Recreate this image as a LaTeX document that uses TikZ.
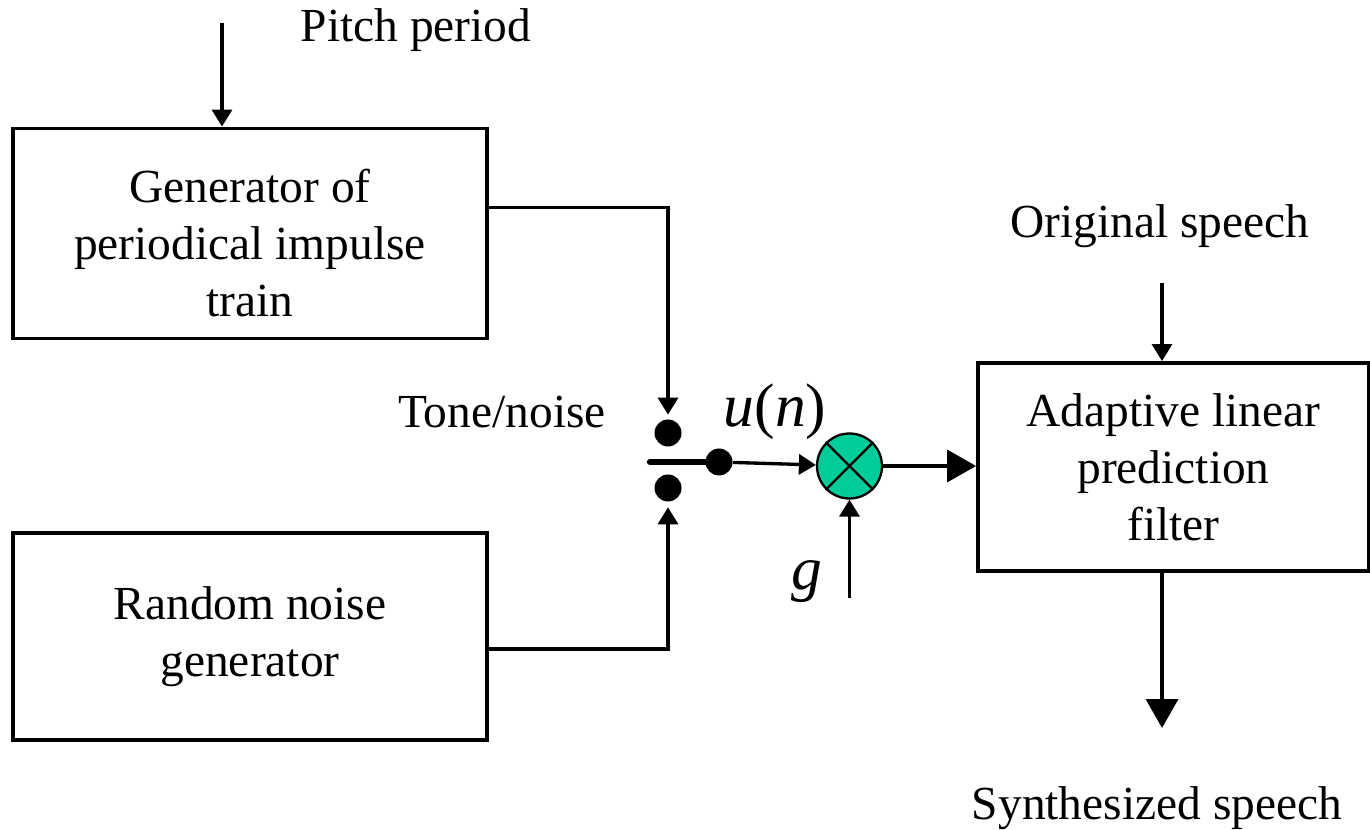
\documentclass[tikz,border=0pt]{standalone}
\usepackage{fontspec}
\setmainfont{Liberation Serif}
\usetikzlibrary{arrows.meta,calc}
\definecolor{MixerGreen}{HTML}{00CC99}

\begin{document}
\begin{tikzpicture}[
  x=0.02cm,
  y=-0.02cm,
  font=\fontsize{27}{32.5}\selectfont,
  block/.style={
    draw,
    line width=2.2pt,
    minimum width=9.48cm,
    minimum height=4.2cm,
    align=center,
    inner sep=0pt
  },
  mixer/.style={circle,draw,line width=1.3pt,fill=MixerGreen,
    minimum size=1.3cm,inner sep=0pt},
  dot/.style={circle,fill=black,inner sep=0pt,minimum size=0.54cm},
  arrow/.style={-{Triangle[length=0.34cm,width=0.4cm]},line width=1.9pt},
  bigarrow/.style={-{Triangle[length=0.58cm,width=0.64cm]},line width=2pt},
  lever/.style={line width=3.6pt,line cap=round},
  sym/.style={font=\fontsize{35}{40}\selectfont\itshape}
]
\useasboundingbox (0,0) rectangle (1370,830);

\node[block] (pulse) at (250,233.5) {};
\node (pulsetext) at (250,243) [align=center]
  {Generator of\\periodical impulse\\train};
\node[block,minimum height=4.14cm] (noise) at (250,636.5)
  {Random noise\\generator};
\node[block,minimum width=7.82cm,minimum height=4.16cm] (filter) at (1173.5,467)
  {Adaptive linear\\prediction\\filter};

\node[mixer] (mult) at (849.5,466) {};
\draw[line width=1.3pt] (mult.north west) -- (mult.south east)
  (mult.north east) -- (mult.south west);

\node[dot] (tone) at (668,433) {};
\node[dot] (rand) at (668,488) {};
\node[dot] (pivot) at (719,462) {};
\coordinate (lever) at (650,462);

\coordinate (pitch) at (222,23);
\coordinate (orig) at (1162,283);
\coordinate (gain) at (849.5,598);
\coordinate (out) at (1162,728);

\node at (416,30) {Pitch period};
\node at (502,412) {Tone/noise};
\node at (1160,226) {Original speech};
\node at (1157,808) {Synthesized speech};
\node[sym] at (775,412) {u{\upshape(}n{\upshape)}};
\node[sym] at (807,582) {g};

\draw[arrow] (pitch) -- (pitch |- pulse.north);
\draw[arrow] ([yshift=0.52cm]pulse.east) -| ([yshift=0.09cm]tone.north);
\draw[arrow] ([yshift=-0.25cm]noise.east) -| ([yshift=-0.11cm]rand.south);
\draw[lever] (lever) -- (pivot);
\draw[arrow] (pivot) -- (mult);
\draw[arrow] (gain) -- (mult.south);
\draw[bigarrow] (mult.east) -- (mult.east -| filter.west);
\draw[arrow] (orig) -- (orig |- filter.north);
\draw[bigarrow] (orig |- filter.south) -- (out);
\end{tikzpicture}
\end{document}
